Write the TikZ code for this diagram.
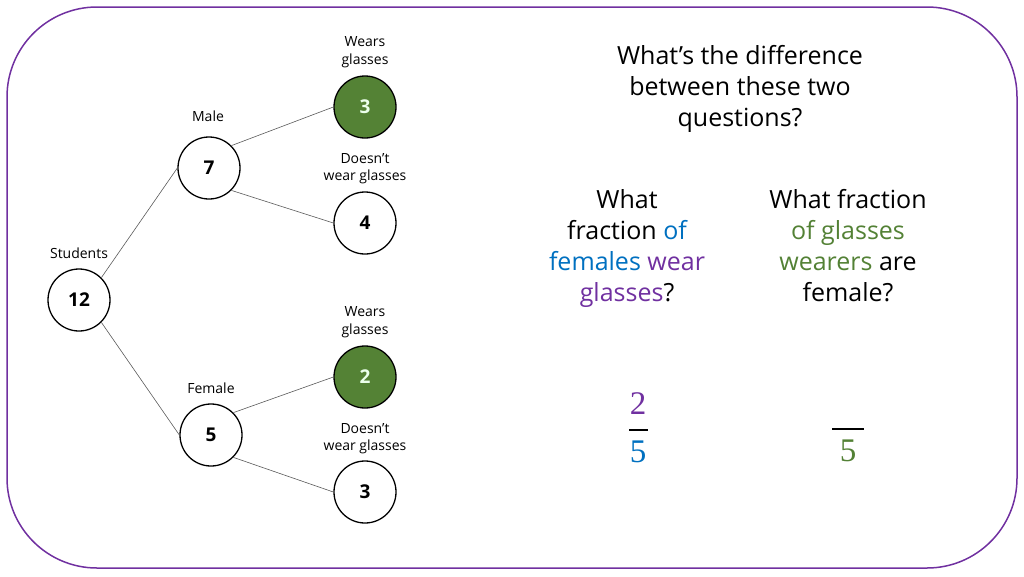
\documentclass[tikz,border=0pt]{standalone}
\usepackage{fontspec}
\setmainfont{Open Sans}
\newfontfamily\digitfont{Liberation Serif}
\definecolor{frame}{HTML}{7030A0}
\definecolor{qblue}{HTML}{0070C0}
\definecolor{qpurple}{HTML}{7030A0}
\definecolor{qgreen}{HTML}{538135}
\definecolor{gfill}{HTML}{548235}
\begin{document}
\begin{tikzpicture}[x=1pt,y=-1pt,
  circ/.style={circle, draw=black, line width=1.3pt, fill=white, minimum size=62pt, inner sep=0pt,
    font=\bfseries\fontsize{19}{19}\selectfont},
  gcirc/.style={circ, fill=gfill, text=white!92!green},
  lab/.style={align=center, font=\fontsize{14}{17.5}\selectfont},
  edge/.style={draw=black!65, line width=0.6pt},
  qtext/.style={align=center, font=\fontsize{25}{31}\selectfont},
  dig/.style={font=\digitfont\fontsize{33}{33}\selectfont, inner sep=0pt}
]
\useasboundingbox (0,0) rectangle (1024,576);
\draw[frame, line width=1.5pt, rounded corners=90pt] (7,7) rectangle (1017,568);

% tree
\node[circ] (n12) at (79,300) {12};
\node[circ] (n7) at (209,168) {7};
\node[circ] (n5) at (211,435) {5};
\node[gcirc] (g3) at (365,107) {3};
\node[circ] (n4) at (365,223) {4};
\node[gcirc] (g2) at (365,377) {2};
\node[circ] (n3) at (365,492) {3};

\draw[edge] (n12.north east) -- (n7.west);
\draw[edge] (n12.south east) -- (n5.west);
\draw[edge] (n7.north east) -- (g3.west);
\draw[edge] (n7.south east) -- (n4.west);
\draw[edge] (n5.north east) -- (g2.west);
\draw[edge] (n5.south east) -- (n3.west);

\node[lab] (lstud) at (79,253) {Students};
\node[lab] (lmale) at (208,116) {Male};
\node[lab] (lfem) at (211,388) {Female};
\node[lab] (lw1) at (365,52) {Wears\\glasses};
\node[lab] (ld1) at (365,168.5) {Doesn’t\\wear glasses};
\node[lab] (lw2) at (365,322) {Wears\\glasses};
\node[lab] (ld2) at (365,438.5) {Doesn’t\\wear glasses};

% questions
\node[qtext] (title) at (740,89) {What’s the difference\\between these two\\questions?};
\node[qtext] (q1) at (627,248.5) {What\\fraction \textcolor{qblue}{of}\\\textcolor{qblue}{females} \textcolor{qpurple}{wear}\\\textcolor{qpurple}{glasses}?};
\node[qtext] (q2) at (848,246) {What fraction\\\textcolor{qgreen}{of glasses}\\\textcolor{qgreen}{wearers} are\\female?};

% fractions
\node[dig, text=qpurple] (f1n) at (638,404) {2};
\node[dig, text=qblue] (f1d) at (638,452) {5};
\coordinate (b1l) at (629,430);
\coordinate (b1r) at (648,430);
\draw[line width=1.8pt] (b1l) -- (b1r);
\node[dig, text=qgreen] (f2d) at (848,451) {5};
\coordinate (b2l) at (832,429);
\coordinate (b2r) at (864,429);
\draw[line width=1.8pt] (b2l) -- (b2r);
\end{tikzpicture}
\end{document}
